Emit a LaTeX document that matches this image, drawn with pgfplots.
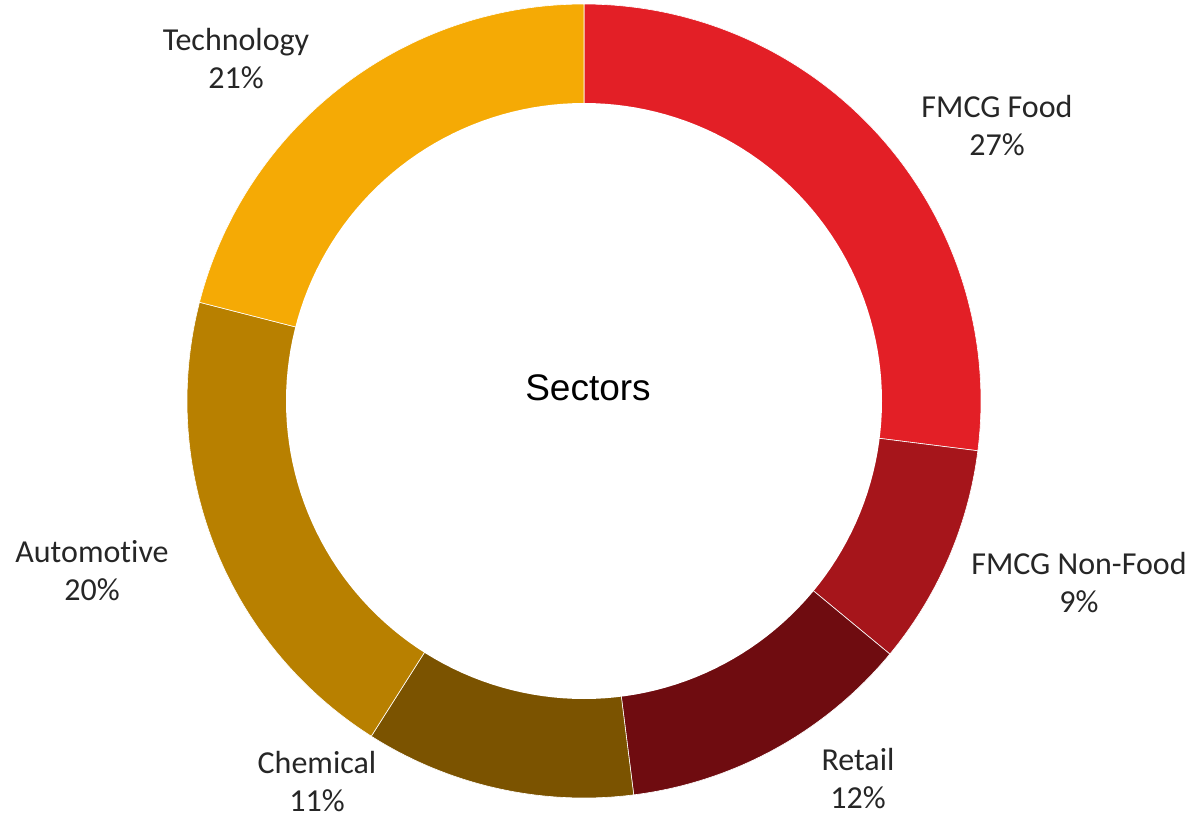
\documentclass[border=0pt]{standalone}
\usepackage{pgfplots}
\pgfplotsset{compat=1.18}
\usepackage{fontspec}
\setmainfont{Carlito}[Ligatures={CommonOff}]
\newfontfamily\arialfont{Liberation Sans}
\definecolor{cFood}{HTML}{E31F26}
\definecolor{cNonFood}{HTML}{A6151B}
\definecolor{cRetail}{HTML}{6F0C10}
\definecolor{cChem}{HTML}{7B5300}
\definecolor{cAuto}{HTML}{B88000}
\definecolor{cTech}{HTML}{F5AA05}
\definecolor{txt}{HTML}{262626}
% #1 = cumulative start (%), #2 = value (%), #3 = colour
\newcommand{\sector}[3]{%
  \addplot[fill=#3, draw=white, line width=0.3pt, domain={90-3.6*(#1+#2)}:{90-3.6*#1}, samples=90, variable=\t]
    ({584+397*cos(\t)},{401-397*sin(\t)}) -- (axis cs:584,401) -- cycle;
}
\begin{document}
\begin{tikzpicture}
\begin{axis}[
  x=0.5pt, y=0.5pt, scale only axis,
  xmin=0, xmax=1196, ymin=0, ymax=819, y dir=reverse,
  hide axis, clip=false,
]
\path (axis cs:0,0) rectangle (axis cs:1196,819);
% values: FMCG Food 27, FMCG Non-Food 9, Retail 12, Chemical 11, Automotive 20, Technology 21
\sector{0}{27}{cFood}
\sector{27}{9}{cNonFood}
\sector{36}{12}{cRetail}
\sector{48}{11}{cChem}
\sector{59}{20}{cAuto}
\sector{79}{21}{cTech}
\addplot[fill=white, draw=none, domain=0:360, samples=181, variable=\t]
  ({584+298*cos(\t)},{401+298*sin(\t)}) -- cycle;
\begin{scope}[every node/.style={overlay, inner sep=0pt, align=center, text=txt, font=\fontsize{16}{19}\selectfont}]
\node at (axis cs:236,59) {Technology\\21\%};
\node at (axis cs:997,126) {FMCG Food\\27\%};
\node at (axis cs:1079,583) {FMCG Non-Food\\9\%};
\node at (axis cs:858,779) {Retail\\12\%};
\node at (axis cs:317,782) {Chemical\\11\%};
\node at (axis cs:92,571) {Automotive\\20\%};
\end{scope}
\node[overlay, font=\arialfont\fontsize{18.5}{22}\selectfont, text=black] at (axis cs:588,388) {Sectors};
\end{axis}
\end{tikzpicture}
\end{document}
